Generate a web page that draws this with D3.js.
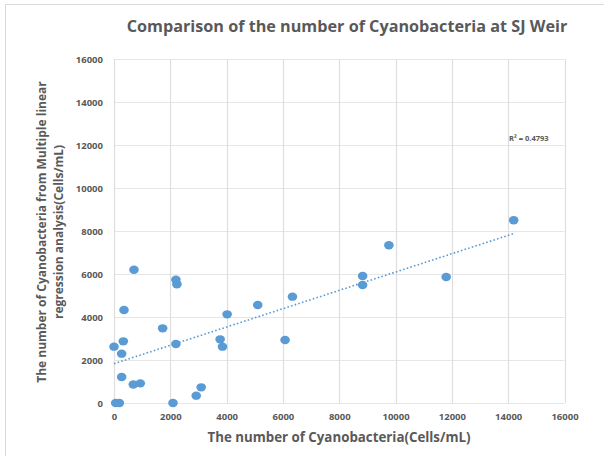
<!DOCTYPE html>
<html>
<head>
<meta charset="utf-8">
<script src="https://cdn.jsdelivr.net/npm/d3@7"></script>
<style>
  html, body { margin: 0; padding: 0; background: #fff; }
  svg { display: block; }
  text { font-family: "Open Sans", "Liberation Sans", sans-serif; fill: #595959; }
</style>
</head>
<body>
<svg id="chart" width="604" height="456"></svg>
<script>
// Observed cyanobacteria counts (Cells/mL) at SJ Weir
const observed = [0, 60, 190, 272, 272, 331, 355, 686, 709, 934, 1727, 2095, 2199, 2199, 2234,
                  2920, 3097, 3770, 3853, 4018, 5106, 6076, 6337, 8830, 8830, 9763, 11798, 14195];
// Counts predicted by the multiple linear regression model (Cells/mL)
const predicted = [2620, 0, 0, 2295, 1209, 2868, 4326, 860, 6200, 914, 3473, 0, 5735, 2744, 5520,
                   341, 729, 2961, 2620, 4124, 4558, 2930, 4946, 5907, 5488, 7335, 5860, 8498];
const xTicks = [0, 2000, 4000, 6000, 8000, 10000, 12000, 14000, 16000];
const yTicks = [0, 2000, 4000, 6000, 8000, 10000, 12000, 14000, 16000];
const titleText = "Comparison of the number of Cyanobacteria at SJ Weir";
const xTitle = "The number of Cyanobacteria(Cells/mL)";
const yTitleLines = ["The number of Cyanobacteria from Multiple linear", "regression analysis(Cells/mL)"];
const r2Label = "R\u00B2 = 0.4793";

const svg = d3.select("#chart");
const plot = { left: 114, right: 564.5, top: 59, bottom: 403 };

// outer chart frame
svg.append("rect")
  .attr("x", 5.5).attr("y", 4.5).attr("width", 640).attr("height", 480)
  .attr("fill", "none").attr("stroke", "#d9d9d9").attr("stroke-width", 1);

const x = d3.scaleLinear().domain([0, 16000]).range([plot.left, plot.right]);
const y = d3.scaleLinear().domain([0, 16000]).range([plot.bottom, plot.top]);

// gridlines
const grid = svg.append("g");
grid.selectAll("line.h").data(yTicks).join("line")
  .attr("x1", plot.left).attr("x2", plot.right)
  .attr("y1", d => Math.round(y(d)) + 0.5).attr("y2", d => Math.round(y(d)) + 0.5)
  .attr("stroke", "#e6e6e6").attr("stroke-width", 1.2);
grid.selectAll("line.v").data(xTicks).join("line")
  .attr("y1", plot.top).attr("y2", plot.bottom)
  .attr("x1", d => Math.round(x(d)) + 0.5).attr("x2", d => Math.round(x(d)) + 0.5)
  .attr("stroke", "#dedede").attr("stroke-width", 1.2);

// axes (labels only, lines handled by the grid)
const xAxis = svg.append("g")
  .attr("transform", `translate(0,${plot.bottom})`)
  .call(d3.axisBottom(x).tickValues(xTicks).tickSize(0).tickPadding(10).tickFormat(d3.format("d")));
const yAxis = svg.append("g")
  .attr("transform", `translate(${plot.left},0)`)
  .call(d3.axisLeft(y).tickValues(yTicks).tickSize(0).tickPadding(11).tickFormat(d3.format("d")));
[xAxis, yAxis].forEach(a => {
  a.select(".domain").remove();
  a.selectAll("text")
    .style("font-family", '"Open Sans", sans-serif')
    .style("font-size", "9.5px").style("font-weight", "bold").attr("fill", "#595959");
});

// linear trendline fitted to the points
const n = observed.length;
const mx = d3.mean(observed), my = d3.mean(predicted);
let sxy = 0, sxx = 0;
for (let i = 0; i < n; i++) {
  sxy += (observed[i] - mx) * (predicted[i] - my);
  sxx += (observed[i] - mx) ** 2;
}
const slope = sxy / sxx;
const intercept = my - slope * mx;
const xExt = d3.extent(observed);
svg.append("line")
  .attr("x1", x(xExt[0])).attr("y1", y(intercept + slope * xExt[0]))
  .attr("x2", x(xExt[1])).attr("y2", y(intercept + slope * xExt[1]))
  .attr("stroke", "#5b9bd5").attr("stroke-width", 1.6)
  .attr("stroke-dasharray", "1.6,2.2");

// points
svg.append("g").selectAll("ellipse").data(observed).join("ellipse")
  .attr("cx", (d, i) => x(d)).attr("cy", (d, i) => y(predicted[i]))
  .attr("rx", 4.8).attr("ry", 4.2)
  .attr("fill", "#5b9bd5");

// R² label
svg.append("text")
  .attr("x", 509).attr("y", 141)
  .style("font-size", "7.5px").style("font-weight", "bold")
  .text(r2Label);

// titles
svg.append("text")
  .attr("x", 347).attr("y", 32).attr("text-anchor", "middle")
  .style("font-size", "16.2px").style("font-weight", "bold")
  .text(titleText);

svg.append("text")
  .attr("x", 339).attr("y", 442).attr("text-anchor", "middle")
  .style("font-size", "13.3px").style("font-weight", "bold")
  .text(xTitle);

const yt = svg.append("text")
  .attr("transform", "translate(46,232) rotate(-90)")
  .attr("text-anchor", "middle")
  .style("font-size", "12px").style("font-weight", "bold");
yTitleLines.forEach((t, i) => {
  yt.append("tspan").attr("x", 0).attr("dy", i === 0 ? 0 : 17).text(t);
});
</script>
</body>
</html>
